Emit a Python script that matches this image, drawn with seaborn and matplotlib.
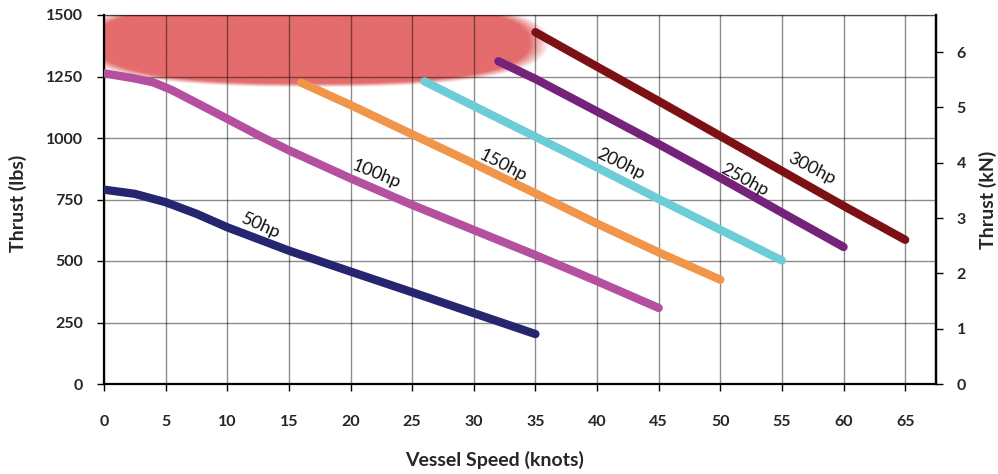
import numpy as np
import pandas as pd
import matplotlib
matplotlib.use("Agg")
import matplotlib.pyplot as plt
from matplotlib.colors import to_rgb
import seaborn as sns

# ---- data ----
speed_50 = [0, 2.5, 5, 7.5, 10, 15, 20, 25, 30, 35]
thrust_50 = [790, 773, 739, 692, 637, 542, 457, 373, 288, 203]
speed_100 = [0, 2.5, 4, 5.5, 7.5, 10, 12.5, 15, 20, 25, 30, 35, 40, 45]
thrust_100 = [1263, 1242, 1226, 1195, 1143, 1078, 1012, 950, 836, 728, 626, 524, 418, 309]
speed_150 = [16, 20, 25, 30, 35, 40, 45, 50]
thrust_150 = [1225, 1134, 1015, 896, 775, 652, 535, 424]
speed_200 = [26, 30, 35, 40, 45, 50, 55]
thrust_200 = [1230, 1130, 1005, 880, 752, 627, 502]
speed_250 = [32, 35, 40, 45, 50, 55, 60]
thrust_250 = [1312, 1240, 1108, 975, 838, 697, 557]
speed_300 = [35, 40, 45, 50, 55, 60, 65]
thrust_300 = [1430, 1290, 1150, 1008, 866, 724, 586]

series_names = ["50hp", "100hp", "150hp", "200hp", "250hp", "300hp"]
series_speeds = [speed_50, speed_100, speed_150, speed_200, speed_250, speed_300]
series_thrusts = [thrust_50, thrust_100, thrust_150, thrust_200, thrust_250, thrust_300]
series_colors = ["#262670", "#b54fa0", "#f0954a", "#6ccdd8", "#74227a", "#7b1114"]

# label anchor positions (data coords) and rotations
label_x = [12.7, 22.1, 32.4, 41.9, 52.0, 57.4]
label_y = [644, 851, 889, 893, 828, 876]
label_rot = [-24, -22, -27, -26, -28, -27]

x_ticks = list(range(0, 70, 5))
y_ticks = [0, 250, 500, 750, 1000, 1250, 1500]
kn_ticks = [0, 1, 2, 3, 4, 5, 6]
LBS_PER_KN = 224.809

# highlighted region (soft blob)
blob_cx, blob_cy, blob_a, blob_b, blob_p = 16.9, 1390, 18.4, 176, 2.5
blob_color = "#e46c6c"

# ---- style ----
sns.set_style("white")
plt.rcParams["font.family"] = ["Lato", "DejaVu Sans"]

fig = plt.figure(figsize=(9.98, 4.74), dpi=100)
ax = fig.add_axes([104 / 998, 1 - 384 / 474, (936 - 104) / 998, (384 - 15) / 474])

# soft red blob
gx = np.linspace(0, 67.5, 800)
gy = np.linspace(1000, 1500, 400)
X, Y = np.meshgrid(gx, gy)
R = (np.abs((X - blob_cx) / blob_a) ** blob_p + np.abs((Y - blob_cy) / blob_b) ** blob_p) ** (1 / blob_p)
alpha = np.clip((1.0 - R) / 0.09 + 0.5, 0, 1)
img = np.zeros(R.shape + (4,))
img[..., :3] = to_rgb(blob_color)
img[..., 3] = alpha
ax.imshow(img, extent=(0, 67.5, 1000, 1500), origin="lower", aspect="auto",
          zorder=0.2, interpolation="bilinear")

for name, sx, ty, col in zip(series_names, series_speeds, series_thrusts, series_colors):
    df = pd.DataFrame({"speed": sx, "thrust": ty})
    sns.lineplot(data=df, x="speed", y="thrust", ax=ax, color=col, lw=6,
                 solid_capstyle="round", solid_joinstyle="round", sort=True, zorder=3)

for name, lx, ly, rot in zip(series_names, label_x, label_y, label_rot):
    ax.text(lx, ly, name, rotation=rot, ha="center", va="center",
            rotation_mode="anchor", fontsize=13, color="#111111", zorder=4)

ax.set_xlim(0, 67.5)
ax.set_ylim(0, 1500)
ax.set_xticks(x_ticks)
ax.set_yticks(y_ticks)
ax.set_axisbelow(True)
ax.grid(True, color="black", alpha=0.45, lw=1.0)

for s in ["left", "bottom", "right"]:
    ax.spines[s].set_color("black")
    ax.spines[s].set_linewidth(1.6)
ax.spines["top"].set_color((0, 0, 0, 0.45))
ax.spines["top"].set_linewidth(1.0)

ax.tick_params(axis="both", direction="out", length=5, width=1, color="black",
               labelsize=11.5, left=True, bottom=True)
ax.tick_params(axis="x", pad=17)
ax.tick_params(axis="y", pad=10)
for lab in ax.get_xticklabels() + ax.get_yticklabels():
    lab.set_fontweight("bold")

ax.set_xlabel("Vessel Speed (knots)", fontsize=14, fontweight="bold")
ax.xaxis.label.set_va("center")
ax.xaxis.set_label_coords(0.469, -0.206)
ax.set_ylabel("Thrust (lbs)", fontsize=14, fontweight="bold")
ax.yaxis.label.set_va("center")
ax.yaxis.set_label_coords(-0.103, 0.49)

ax2 = ax.twinx()
ax2.set_ylim(0, 1500 / LBS_PER_KN)
ax2.set_yticks(kn_ticks)
ax2.grid(False)
for s in ["top", "left", "bottom"]:
    ax2.spines[s].set_visible(False)
ax2.spines["right"].set_color("black")
ax2.spines["right"].set_linewidth(1.6)
ax2.tick_params(axis="y", direction="out", length=5, width=1, color="black",
                labelsize=11.5, pad=10, right=True)
for lab in ax2.get_yticklabels():
    lab.set_fontweight("bold")
ax2.set_ylabel("Thrust (kN)", fontsize=14, fontweight="bold", rotation=90)
ax2.yaxis.label.set_va("center")
ax2.yaxis.set_label_coords(1.0625, 0.50)

fig.savefig("out.png", dpi=100)
